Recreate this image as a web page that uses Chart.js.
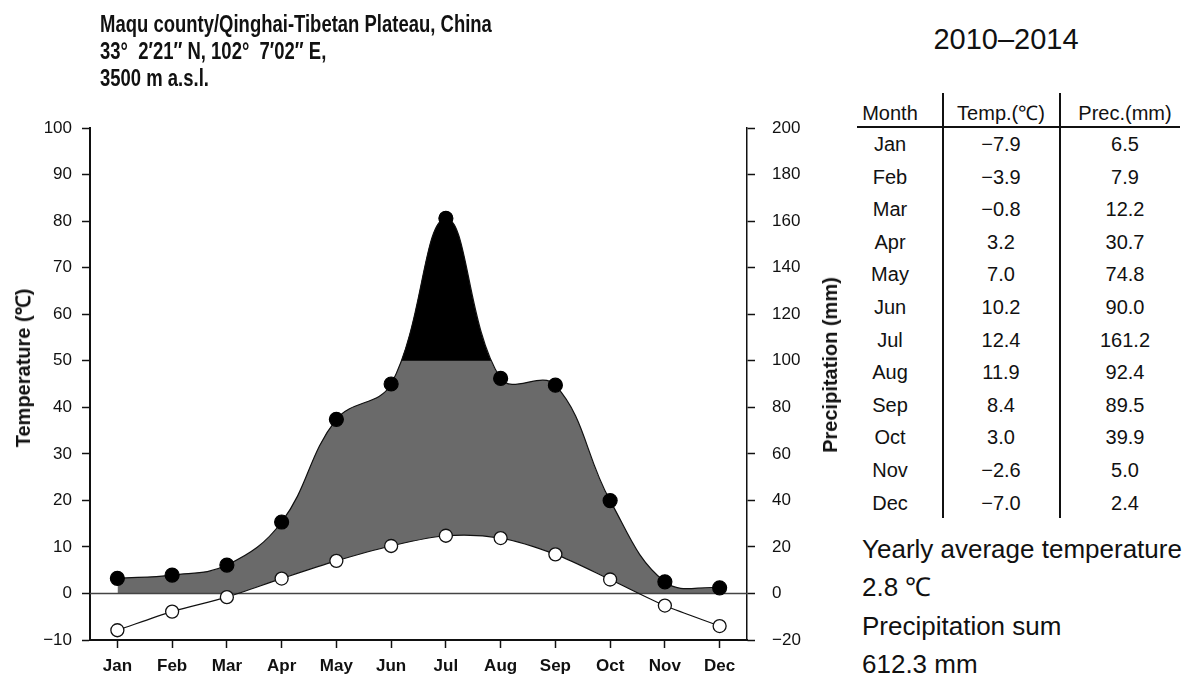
<!DOCTYPE html>
<html>
<head>
<meta charset="utf-8">
<script src="https://cdn.jsdelivr.net/npm/chart.js@4"></script>
<style>
body { margin: 0; background: #fff; font-family: "Liberation Sans", Arial, sans-serif; color: #111; }
#wrap { position: relative; width: 1190px; height: 679px; overflow: hidden; }
#box { position: absolute; left: 0; top: 0; width: 847px; height: 679px; }
.t { position: absolute; white-space: nowrap; }
.cell { position: absolute; white-space: nowrap; font-size: 20px; height: 24px; line-height: 24px; transform: translateX(-50%); }
.rule { position: absolute; background: #111; }
.axt { position: absolute; white-space: nowrap; font-weight: bold; font-size: 20px; line-height: 24px; transform: translate(-50%, -50%) rotate(-90deg); }
</style>
</head>
<body>
<div id="wrap">
  <div id="box"><canvas id="myChart"></canvas></div>
  <div class="t" style="left:100px;top:10px;font-weight:bold;font-size:24px;line-height:27px;transform:scaleX(0.77);transform-origin:0 0">
    Maqu county/Qinghai-Tibetan Plateau, China<br>33°&nbsp;&nbsp;2′21″ N, 102°&nbsp;&nbsp;7′02″ E,<br>3500 m a.s.l.
  </div>
  <div class="axt" style="left:23px;top:368px">Temperature (℃)</div>
  <div class="axt" style="left:830px;top:365px">Precipitation (mm)</div>
  <div id="side"></div>
</div>
<script>
const months = ['Jan', 'Feb', 'Mar', 'Apr', 'May', 'Jun', 'Jul', 'Aug', 'Sep', 'Oct', 'Nov', 'Dec'];
const temperature = [-7.9, -3.9, -0.8, 3.2, 7.0, 10.2, 12.4, 11.9, 8.4, 3.0, -2.6, -7.0];
const precipitation = [6.5, 7.9, 12.2, 30.7, 74.8, 90.0, 161.2, 92.4, 89.5, 39.9, 5.0, 2.4];
const period = '2010–2014';
const yearlyTemp = '2.8 ℃';
const precipSum = '612.3 mm';
const humidLimit = 100; // mm, black above this

const minus = (v) => (v < 0 ? '\u2212' + (-v) : '' + v);
const fmt = (v) => (v < 0 ? '\u2212' + (-v).toFixed(1) : v.toFixed(1));

// side panel: period, table, totals
const side = document.getElementById('side');
function addText(html, style, cls) {
    const d = document.createElement('div');
    d.className = cls || 't';
    d.innerHTML = html;
    d.setAttribute('style', style);
    side.appendChild(d);
}
addText(period, 'left:1006px;top:22px;font-size:29px;line-height:34px;transform:translateX(-50%)');
const colX = [890, 1001, 1125];
const headY = 113, rowY0 = 144, rowH = 32.6;
['Month', 'Temp.(℃)', 'Prec.(mm)'].forEach((h, j) => {
    addText(h, 'left:' + colX[j] + 'px;top:' + (headY - 12) + 'px', 'cell');
});
months.forEach((m, i) => {
    const y = rowY0 + i * rowH - 12;
    addText(m, 'left:' + colX[0] + 'px;top:' + y + 'px', 'cell');
    addText(fmt(temperature[i]), 'left:' + colX[1] + 'px;top:' + y + 'px', 'cell');
    addText(fmt(precipitation[i]), 'left:' + colX[2] + 'px;top:' + y + 'px', 'cell');
});
addText('', 'left:857px;top:126px;width:323px;height:2px', 'rule');
addText('', 'left:942px;top:93px;width:2px;height:425px', 'rule');
addText('', 'left:1059px;top:93px;width:2px;height:425px', 'rule');
['Yearly average temperature', yearlyTemp, 'Precipitation sum', precipSum].forEach((s, i) => {
    addText(s, 'left:862px;top:' + (549 - 16 + i * 38.3) + 'px;font-size:26px;line-height:32px');
});

// black part of the precipitation area (above 100 mm) and the zero line,
// drawn over the fills but under the lines and points
const extras = {
    id: 'extras',
    beforeDatasetsDraw(chart) {
        const c = chart.ctx, a = chart.chartArea;
        const meta = chart.getDatasetMeta(0);
        const pts = meta.data;
        const yLim = chart.scales.y2.getPixelForValue(humidLimit);
        const yBase = chart.scales.y2.getPixelForValue(0);
        c.save();
        c.beginPath();
        c.rect(a.left, a.top, a.right - a.left, yLim - a.top);
        c.clip();
        c.beginPath();
        meta.dataset.path(c);
        c.lineTo(pts[pts.length - 1].x, yBase);
        c.lineTo(pts[0].x, yBase);
        c.closePath();
        c.fillStyle = '#000';
        c.fill();
        c.restore();

        const y = chart.scales.y.getPixelForValue(0);
        c.save();
        c.strokeStyle = '#444';
        c.lineWidth = 1.5;
        c.beginPath();
        c.moveTo(a.left, y);
        c.lineTo(a.right, y);
        c.stroke();
        c.restore();
    }
};

const ctx = document.getElementById('myChart');
const cht = new Chart(ctx, {
    type: 'line',
    data: {
        labels: months,
        datasets: [{
            // precipitation, grey area down to 0
            label: 'Precipitation',
            data: precipitation,
            yAxisID: 'y2',
            order: 4,
            tension: 0.4,
            borderColor: '#111',
            borderWidth: 1.2,
            pointRadius: 7,
            pointBackgroundColor: '#000',
            pointBorderColor: '#000',
            fill: { target: 'origin', above: '#6a6a6a', below: 'transparent' }
        }, {
            label: 'Temperature',
            data: temperature,
            yAxisID: 'y',
            order: 2,
            tension: 0.3,
            borderColor: '#111',
            borderWidth: 1.2,
            pointRadius: 6.5,
            pointBackgroundColor: '#fff',
            pointBorderColor: '#111',
            pointBorderWidth: 1.3,
            fill: { target: 'origin', above: '#fff', below: 'transparent' }
        }]
    },
    options: {
        responsive: true,
        maintainAspectRatio: false,
        animation: false,
        layout: { padding: { left: 7, top: 128, right: 0, bottom: 0 } },
        plugins: {
            legend: { display: false },
            tooltip: { enabled: false },
            filler: { drawTime: 'beforeDatasetsDraw' }
        },
        scales: {
            x: {
                offset: true,
                grid: { display: true, drawOnChartArea: false, drawTicks: true, tickLength: 8, tickColor: '#111', tickWidth: 1.5 },
                border: { color: '#111', width: 2 },
                ticks: { color: '#111', font: { family: 'Liberation Sans', size: 17, weight: 'bold' }, padding: 8, maxRotation: 0 },
                afterFit: (s) => { s.height = 39; }
            },
            y: {
                position: 'left',
                min: -10,
                max: 100,
                grid: { drawOnChartArea: false, tickLength: 8, tickColor: '#111', tickWidth: 1.5 },
                border: { color: '#111', width: 2 },
                ticks: { stepSize: 10, color: '#111', font: { family: 'Liberation Sans', size: 17 }, padding: 10, callback: minus },
                afterFit: (s) => { s.width = 83; }
            },
            y2: {
                position: 'right',
                min: -20,
                max: 200,
                grid: { drawOnChartArea: false, tickLength: 8, tickColor: '#111', tickWidth: 1.5 },
                border: { color: '#111', width: 1.5 },
                ticks: { stepSize: 20, color: '#111', font: { family: 'Liberation Sans', size: 17 }, padding: 17, callback: minus },
                afterFit: (s) => { s.width = 100; }
            }
        }
    },
    plugins: [extras]
});
</script>
</body>
</html>
